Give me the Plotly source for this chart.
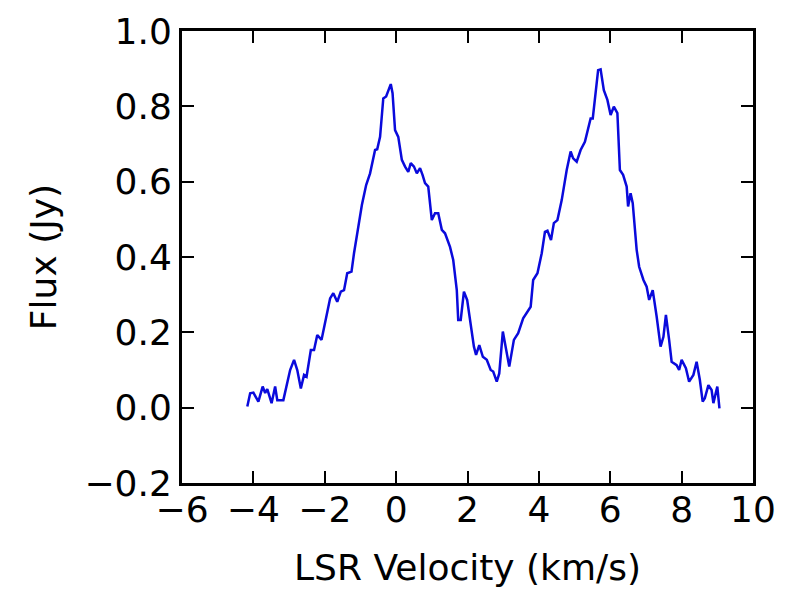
import plotly.graph_objects as go

velocity = [-4.17, -4.09, -4.00, -3.86, -3.74, -3.67, -3.61, -3.49, -3.39, -3.33,
            -3.16, -2.97, -2.86, -2.77, -2.67, -2.58, -2.51, -2.39, -2.30, -2.21,
            -2.09, -1.97, -1.85, -1.76, -1.65, -1.55, -1.46, -1.37, -1.25, -1.18,
            -1.07, -0.96, -0.84, -0.73, -0.59, -0.53, -0.45, -0.36, -0.28, -0.22,
            -0.15, -0.10, -0.03, 0.06, 0.16, 0.25, 0.34, 0.41, 0.50, 0.58,
            0.67, 0.74, 0.81, 0.90, 1.00, 1.09, 1.18, 1.28, 1.37, 1.51,
            1.60, 1.70, 1.74, 1.81, 1.90, 1.99, 2.09, 2.18, 2.24, 2.33,
            2.43, 2.54, 2.65, 2.72, 2.82, 2.89, 2.99, 3.08, 3.17, 3.30,
            3.42, 3.56, 3.68, 3.77, 3.84, 3.96, 4.08, 4.17, 4.24, 4.34,
            4.42, 4.52, 4.64, 4.78, 4.89, 4.96, 5.06, 5.17, 5.29, 5.38,
            5.45, 5.51, 5.57, 5.66, 5.73, 5.82, 5.92, 6.01, 6.10, 6.20,
            6.27, 6.36, 6.46, 6.50, 6.57, 6.63, 6.74, 6.81, 6.93, 7.02,
            7.09, 7.19, 7.30, 7.41, 7.49, 7.56, 7.65, 7.72, 7.86, 7.93,
            8.00, 8.12, 8.21, 8.33, 8.42, 8.51, 8.59, 8.65, 8.75, 8.84,
            8.89, 9.00, 9.06]

flux = [0.003, 0.038, 0.040, 0.016, 0.056, 0.039, 0.049, 0.012, 0.056, 0.020,
        0.020, 0.100, 0.127, 0.100, 0.051, 0.087, 0.082, 0.153, 0.153, 0.193,
        0.180, 0.233, 0.290, 0.304, 0.281, 0.308, 0.312, 0.357, 0.361, 0.410,
        0.477, 0.538, 0.591, 0.622, 0.684, 0.686, 0.719, 0.821, 0.826, 0.843,
        0.859, 0.835, 0.737, 0.719, 0.658, 0.640, 0.626, 0.649, 0.640, 0.622,
        0.636, 0.618, 0.596, 0.587, 0.498, 0.516, 0.516, 0.472, 0.463, 0.427,
        0.392, 0.312, 0.233, 0.233, 0.308, 0.286, 0.215, 0.162, 0.140, 0.166,
        0.135, 0.127, 0.100, 0.096, 0.069, 0.091, 0.202, 0.153, 0.109, 0.180,
        0.198, 0.237, 0.255, 0.268, 0.339, 0.357, 0.410, 0.467, 0.470, 0.445,
        0.490, 0.498, 0.551, 0.631, 0.680, 0.662, 0.653, 0.684, 0.706, 0.746,
        0.768, 0.768, 0.826, 0.896, 0.898, 0.843, 0.817, 0.777, 0.799, 0.782,
        0.631, 0.618, 0.587, 0.534, 0.569, 0.543, 0.419, 0.374, 0.339, 0.321,
        0.286, 0.312, 0.242, 0.162, 0.188, 0.246, 0.180, 0.122, 0.113, 0.100,
        0.127, 0.105, 0.069, 0.087, 0.122, 0.074, 0.016, 0.025, 0.060, 0.047,
        0.012, 0.056, -0.002]

x_ticks = [-6, -4, -2, 0, 2, 4, 6, 8, 10]
y_ticks = [-0.2, 0.0, 0.2, 0.4, 0.6, 0.8, 1.0]
y_tick_labels = ["\u22120.2", "0.0", "0.2", "0.4", "0.6", "0.8", "1.0"]

FONT = "DejaVu Sans"

fig = go.Figure()
fig.add_trace(go.Scatter(
    x=velocity, y=flux, mode="lines",
    line=dict(color="#0a0adc", width=2.5),
    showlegend=False,
))

axis_common = dict(
    showline=True, linecolor="black", linewidth=3, mirror="ticks",
    ticks="inside", ticklen=12, tickwidth=1.5, tickcolor="black",
    showgrid=False, zeroline=False,
    tickfont=dict(family=FONT, size=36, color="black"),
)

fig.update_layout(
    width=791, height=590,
    paper_bgcolor="white", plot_bgcolor="white",
    margin=dict(l=174, r=46, t=23, b=115, autoexpand=False),
    font=dict(family=FONT, color="black"),
    xaxis=dict(
        range=[-6, 10], tickvals=x_ticks,
        title=dict(text="LSR Velocity (km/s)", font=dict(family=FONT, size=36), standoff=26),
        ticklabelstandoff=-7,
        automargin=False,
        **axis_common,
    ),
    yaxis=dict(
        range=[-0.2, 1.0], tickvals=y_ticks, ticktext=y_tick_labels,
        title=dict(text="Flux (Jy)", font=dict(family=FONT, size=36), standoff=17),
        ticklabelstandoff=0,
        automargin=False,
        **axis_common,
    ),
)

fig.write_html("out.html")
